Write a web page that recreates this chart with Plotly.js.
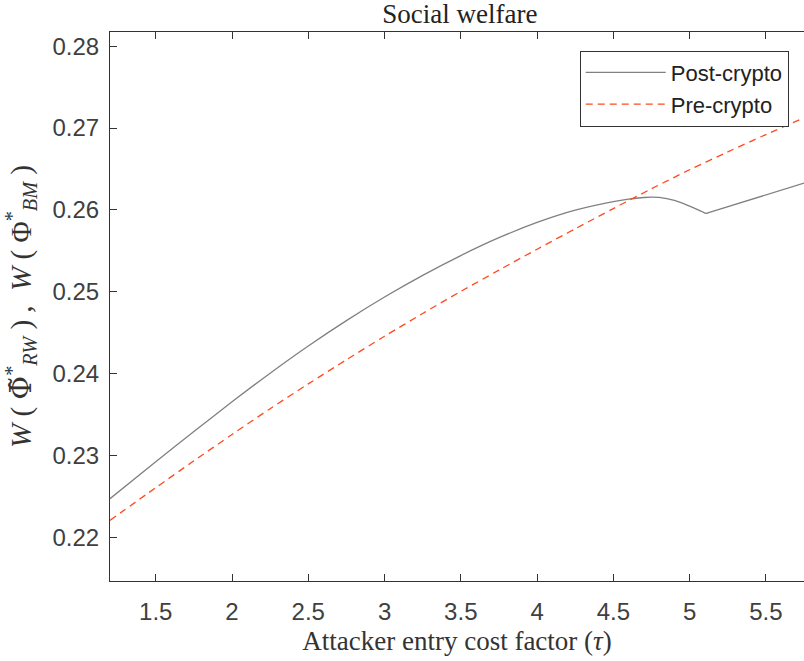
<!DOCTYPE html>
<html>
<head>
<meta charset="utf-8">
<script src="https://cdn.plot.ly/plotly-3.0.1.min.js"></script>
<style>html,body{margin:0;padding:0;overflow:hidden;background:#fff}</style>
</head>
<body>
<div id="chart" style="width:804px;height:661px"></div>
<script>
// Post-crypto: W(Phi~*_RW)
const tauPost = [1.2, 1.5, 1.75, 2.0, 2.25, 2.5, 2.75, 3.0, 3.25, 3.5, 3.75, 4.0, 4.25, 4.5, 4.6, 4.7, 4.75, 4.8, 4.9, 5.0, 5.05, 5.08, 5.108, 5.13, 5.75];
const welfarePost = [0.22472, 0.22922, 0.23292, 0.23655, 0.24005, 0.24337, 0.24647, 0.24935, 0.25200, 0.25442, 0.25660, 0.25847, 0.25997, 0.26102, 0.26132, 0.26151, 0.26155, 0.26152, 0.26115, 0.26045, 0.26005, 0.25980, 0.25956, 0.25969, 0.26327];
// Pre-crypto: W(Phi*_BM)
const tauPre = [1.2, 1.5, 1.75, 2.0, 2.25, 2.5, 2.75, 3.0, 3.25, 3.5, 3.75, 4.0, 4.25, 4.5, 4.75, 5.0, 5.25, 5.5, 5.75];
const welfarePre = [0.22207, 0.22606, 0.22934, 0.23256, 0.23571, 0.23874, 0.24169, 0.24456, 0.24734, 0.25004, 0.25264, 0.25519, 0.25769, 0.26016, 0.26258, 0.26490, 0.26708, 0.26920, 0.27124];

const xTicks = [1.5, 2, 2.5, 3, 3.5, 4, 4.5, 5, 5.5];
const xTickText = ['1.5', '2', '2.5', '3', '3.5', '4', '4.5', '5', '5.5'];
const yTicks = [0.22, 0.23, 0.24, 0.25, 0.26, 0.27, 0.28];
const yTickText = ['0.22', '0.23', '0.24', '0.25', '0.26', '0.27', '0.28'];
const seriesNames = ['Post-crypto', 'Pre-crypto'];

const axisColor = '#333333';
const tickFontColor = '#404040';
const sans = 'Liberation Sans, Arial, sans-serif';
const serif = 'Liberation Serif, Times New Roman, serif';

const traces = [
  {x: tauPost, y: welfarePost, name: seriesNames[0], type: 'scatter', mode: 'lines',
   line: {color: '#808080', width: 1.3, shape: 'spline', smoothing: 0.8}},
  {x: tauPre, y: welfarePre, name: seriesNames[1], type: 'scatter', mode: 'lines',
   line: {color: '#ff4a1f', width: 1.3, dash: '7px,5px', shape: 'spline', smoothing: 0.8}}
];

const layout = {
  width: 804, height: 661,
  margin: {l: 110, r: 0, t: 32, b: 80},
  paper_bgcolor: '#ffffff', plot_bgcolor: '#ffffff',
  showlegend: true,
  title: {text: 'Social welfare', font: {family: serif, size: 27, color: '#222'},
          x: 0.572, xanchor: 'center', y: 1, yanchor: 'bottom', yref: 'paper', pad: {b: 9}},
  xaxis: {
    range: [1.2, 5.75], tickvals: xTicks, ticktext: xTickText,
    showgrid: false, zeroline: false, showline: true, mirror: 'ticks',
    linecolor: axisColor, linewidth: 1, ticks: 'inside', ticklen: 7, tickwidth: 1, tickcolor: axisColor,
    tickfont: {family: sans, size: 24, color: tickFontColor}, ticklabelstandoff: 9,
    title: {text: 'Attacker entry cost factor (<i>τ</i>)', font: {family: serif, size: 27, color: '#333'}, standoff: 7}
  },
  yaxis: {
    range: [0.21466, 0.28173], tickvals: yTicks, ticktext: yTickText,
    showgrid: false, zeroline: false, showline: true, mirror: false,
    linecolor: axisColor, linewidth: 1, ticks: 'inside', ticklen: 7, tickwidth: 1, tickcolor: axisColor,
    tickfont: {family: sans, size: 24, color: tickFontColor}, ticklabelstandoff: 5,
    title: {text: '<i>W</i> ( <span style="font-family:\'DejaVu Serif\'">Φ̃</span><sup>*</sup><sub><i>RW</i></sub> ) ,  <i>W</i> ( Φ<sup>*</sup><sub><i>BM</i></sub> )',
            font: {family: serif, size: 29, color: '#333'}, standoff: 12}
  },
  legend: {
    x: 0.978, xanchor: 'right', y: 0.966, yanchor: 'top',
    bgcolor: '#ffffff', bordercolor: '#333333', borderwidth: 1,
    font: {family: sans, size: 22, color: '#222'},
    itemwidth: 80, tracegroupgap: 0
  }
};

Plotly.newPlot('chart', traces, layout, {displayModeBar: false, staticPlot: true});
</script>
</body>
</html>
